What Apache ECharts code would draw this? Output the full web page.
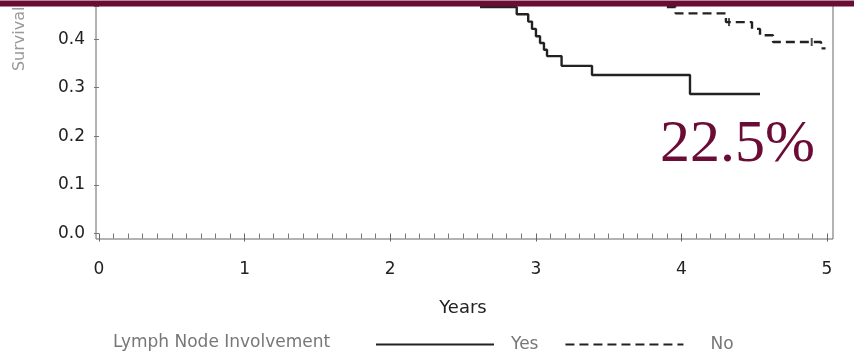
<!DOCTYPE html>
<html>
<head>
<meta charset="utf-8">
<script src="https://cdn.jsdelivr.net/npm/echarts@6/dist/echarts.min.js"></script>
<style>
  html, body { margin: 0; padding: 0; background: #fff; }
  #chart { width: 854px; height: 357px; }
</style>
</head>
<body>
<div id="chart"></div>
<script>
// Kaplan-Meier survival by lymph node involvement (upper part of the plot is cut off by the banner)
const xTicks = [0, 1, 2, 3, 4, 5];
const yTicks = [0.0, 0.1, 0.2, 0.3, 0.4];
const yTop = 0.4677; // highest survival value still visible below the banner

// "Yes" group: event times (years) and survival after each step
const yesTimes = [2.617, 2.869, 2.948, 2.974, 3.001, 3.029, 3.056, 3.077, 3.177, 3.386, 4.059, 4.540];
const yesSurv  = [0.466, 0.451, 0.436, 0.421, 0.406, 0.392, 0.378, 0.365, 0.345, 0.326, 0.287, 0.287];

// "No" group
const noTimes = [3.900, 3.960, 4.306, 4.485, 4.540, 4.629, 4.959, 4.990];
const noSurv  = [0.466, 0.453, 0.435, 0.421, 0.408, 0.394, 0.381, 0.381];

// censored observations on the "No" curve
const noCensorTimes = [4.327, 4.895];
const noCensorSurv  = [0.435, 0.394];

const groupNames = ['Yes', 'No'];
const legendTitle = 'Lymph Node Involvement';
const xTitle = 'Years';
const yTitle = 'Survival Probability';
const callout = '22.5%';

const pairs = (xs, ys) => xs.map((x, i) => [x, ys[i]]);

const sans = '"DejaVu Sans", Arial, sans-serif';
const ink = '#222';
const maroon = '#6b0c36';

const chart = echarts.init(document.getElementById('chart'), null, { renderer: 'canvas' });

chart.setOption({
  animation: false,
  backgroundColor: '#fff',
  title: {
    text: legendTitle,
    left: 113,
    top: 334,
    padding: 0,
    textStyle: { fontFamily: sans, fontSize: 17, fontWeight: 'normal', color: '#777' }
  },
  legend: {
    data: [
      { name: groupNames[0], textStyle: { padding: [0, 0, 0, 12] } },
      { name: groupNames[1], textStyle: { padding: [0, 0, 0, 22] } }
    ],
    left: 375,
    top: 336,
    padding: 0,
    itemWidth: 118,
    itemHeight: 14,
    itemGap: 26,
    itemStyle: { color: 'transparent', borderColor: 'transparent', borderWidth: 0 },
    textStyle: { fontFamily: sans, fontSize: 17, color: '#777' }
  },
  grid: [
    // plotting area
    { left: 99, right: 27, top: 6.2, bottom: 123.5, containLabel: false, outerBoundsMode: 'none' },
    // frame around the plot
    { left: 96, right: 21, top: 0, bottom: 118, show: true, borderColor: '#666', borderWidth: 1,
      backgroundColor: 'transparent', outerBoundsMode: 'none' }
  ],
  xAxis: [
    {
      gridIndex: 0,
      type: 'value',
      min: 0,
      max: 5,
      interval: 1,
      offset: 5.5,
      name: xTitle,
      nameLocation: 'middle',
      nameGap: 60,
      nameTextStyle: { fontFamily: sans, fontSize: 18, color: ink },
      axisLine: { show: false },
      axisTick: { show: true, length: 8, lineStyle: { color: '#666' } },
      minorTick: { show: true, splitNumber: 10, length: 5, lineStyle: { color: '#777' } },
      splitLine: { show: false },
      axisLabel: { fontFamily: sans, fontSize: 17, color: ink, margin: 22 }
    },
    { gridIndex: 1, type: 'value', show: false, min: 0, max: 1 }
  ],
  yAxis: [
    {
      gridIndex: 0,
      type: 'value',
      min: 0,
      max: yTop,
      interval: 0.1,
      offset: 3,
      axisLine: { show: false },
      axisTick: { show: true, length: 5, lineStyle: { color: '#777' } },
      splitLine: { show: false },
      axisLabel: {
        fontFamily: sans, fontSize: 17, color: ink, margin: 11,
        formatter: v => yTicks.some(t => Math.abs(t - v) < 1e-9) ? v.toFixed(1) : ''
      }
    },
    { gridIndex: 1, type: 'value', show: false, min: 0, max: 1 }
  ],
  series: [
    {
      name: groupNames[0],
      type: 'line',
      xAxisIndex: 0,
      yAxisIndex: 0,
      step: 'end',
      symbol: 'none',
      data: pairs(yesTimes, yesSurv),
      lineStyle: { color: ink, width: 2.4, type: 'solid' },
      itemStyle: { color: ink }
    },
    {
      name: groupNames[1],
      type: 'line',
      xAxisIndex: 0,
      yAxisIndex: 0,
      step: 'end',
      symbol: 'none',
      data: pairs(noTimes, noSurv),
      lineStyle: { color: ink, width: 2.4, type: [9, 5] },
      itemStyle: { color: ink }
    },
    {
      name: 'No (censored)',
      type: 'scatter',
      xAxisIndex: 0,
      yAxisIndex: 0,
      symbol: 'rect',
      symbolSize: [2, 8],
      data: pairs(noCensorTimes, noCensorSurv),
      itemStyle: { color: ink }
    }
  ],
  graphic: [
    {
      // vertical axis title, centred on the full 0..1 scale, so only its start shows
      type: 'text',
      z: 50,
      x: 20,
      y: -6,
      rotation: Math.PI / 2,
      style: {
        text: yTitle,
        font: '16px "DejaVu Sans", Arial, sans-serif',
        fill: '#999',
        align: 'center',
        verticalAlign: 'middle'
      }
    },
    {
      type: 'rect',
      z: 100,
      shape: { x: 0, y: 0, width: 854, height: 6.5 },
      style: { fill: maroon }
    },
    {
      type: 'rect',
      z: 101,
      shape: { x: 0, y: 0, width: 854, height: 1 },
      style: { fill: '#b48a9b' }
    },
    {
      type: 'text',
      z: 100,
      x: 660,
      y: 145,
      style: {
        text: callout,
        font: '60px "Liberation Serif", "Times New Roman", serif',
        fill: maroon,
        align: 'left',
        verticalAlign: 'middle'
      }
    }
  ]
});
</script>
</body>
</html>
